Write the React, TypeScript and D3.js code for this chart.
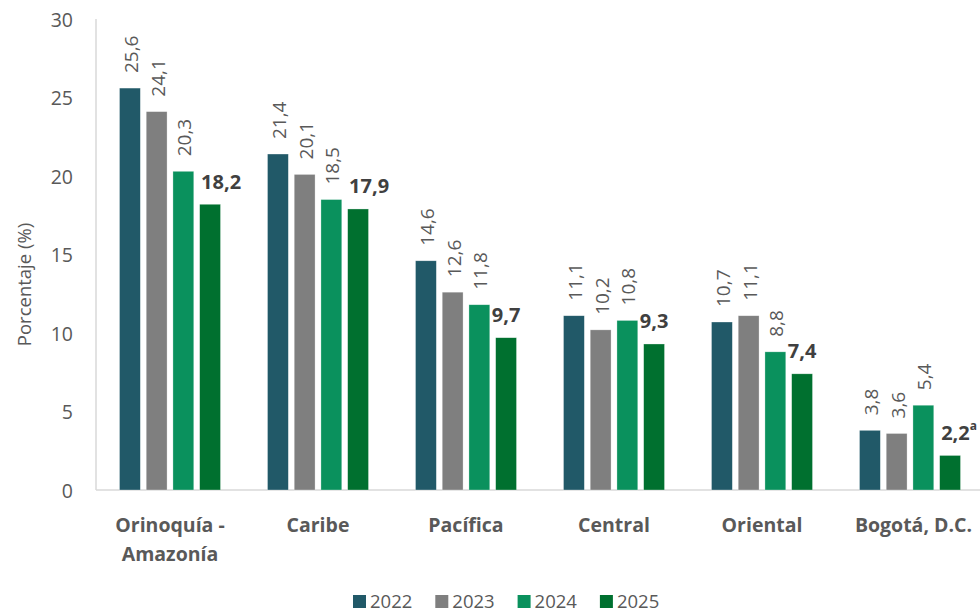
import React from "react";
import * as d3 from "d3";

const regions = ["Orinoquía - Amazonía", "Caribe", "Pacífica", "Central", "Oriental", "Bogotá, D.C."];
const regionLines = [["Orinoquía -", "Amazonía"], ["Caribe"], ["Pacífica"], ["Central"], ["Oriental"], ["Bogotá, D.C."]];
const years = ["2022", "2023", "2024", "2025"];
const v2022 = [25.6, 21.4, 14.6, 11.1, 10.7, 3.8];
const v2023 = [24.1, 20.1, 12.6, 10.2, 11.1, 3.6];
const v2024 = [20.3, 18.5, 11.8, 10.8, 8.8, 5.4];
const v2025 = [18.2, 17.9, 9.7, 9.3, 7.4, 2.2];
const footnotes = ["", "", "", "", "", "a"];
const yTicks = [0, 5, 10, 15, 20, 25, 30];
const colors = ["#215968", "#7F7F7F", "#0A915D", "#00702F"];

const series = [v2022, v2023, v2024, v2025];
const FONT = "'Open Sans', 'Noto Sans', sans-serif";
const fmt = (v: number) => v.toFixed(1).replace(".", ",");

export default function App() {
  const W = 980, H = 611;
  const left = 96, baseY = 490, topY = 19, right = 984;
  const y = d3.scaleLinear().domain([0, 30]).range([baseY, topY]);
  const x0 = d3.scaleBand<string>().domain(regions).range([left, right]).padding(0);
  const inner = 101;
  const x1 = d3.scaleBand<string>().domain(years).range([0, inner]).paddingInner(0.22);
  const off = (x0.bandwidth() - inner) / 2;

  return (
    <svg width={W} height={H} style={{ position: "absolute", left: 0, top: 0 }} fontFamily={FONT}>
      <rect width={W} height={H} fill="#fff" />
      {/* axes */}
      <line x1={left} x2={left} y1={topY} y2={baseY} stroke="#D9D9D9" strokeWidth={1.5} />
      <line x1={left} x2={W} y1={baseY} y2={baseY} stroke="#D9D9D9" strokeWidth={1.5} />
      {yTicks.map((t) => (
        <text key={t} x={73} y={y(t)} textAnchor="end" dominantBaseline="central" fontSize={19.5} fill="#595959">
          {t}
        </text>
      ))}
      <text transform={`translate(23,${(topY + baseY) / 2 + 30}) rotate(-90)`} textAnchor="middle" dominantBaseline="central" fontSize={18.5} fill="#595959">
        Porcentaje (%)
      </text>
      {/* bars */}
      {regions.map((r, i) => {
        const gx = (x0(r) as number) + off;
        return (
          <g key={r} transform={`translate(${gx},0)`}>
            {years.map((yr, j) => {
              const v = series[j][i];
              const bx = x1(yr) as number;
              const bw = x1.bandwidth();
              const cx = bx + bw / 2;
              return (
                <g key={yr}>
                  <rect x={bx} y={y(v)} width={bw} height={baseY - y(v)} fill={colors[j]} stroke="#fff" strokeOpacity={0.5} strokeWidth={0.6} />
                  {j < 3 ? (
                    <text transform={`translate(${cx + 1},${y(v) - 15}) rotate(-90)`} dominantBaseline="central" fontSize={19} fill="#595959">
                      {fmt(v)}
                    </text>
                  ) : (
                    <text x={cx + (v >= 10 ? 11 : footnotes[i] ? 9 : 0)} y={y(v) - 23} textAnchor="middle" dominantBaseline="central" fontSize={20} fontWeight="bold" fill="#404040">
                      {fmt(v)}
                      {footnotes[i] ? (
                        <tspan fontSize={12} dy={-7}>{footnotes[i]}</tspan>
                      ) : null}
                    </text>
                  )}
                </g>
              );
            })}
            {regionLines[i].map((ln, k) => {
              const last = i === regions.length - 1;
              return (
                <text key={k} x={last ? W - 8 - gx : inner / 2} y={524 + k * 29} textAnchor={last ? "end" : "middle"} dominantBaseline="central" fontSize={19.5} fontWeight="bold" fill="#595959">
                  {ln}
                </text>
              );
            })}
          </g>
        );
      })}
      {/* legend */}
      {years.map((yr, j) => (
        <g key={yr} transform={`translate(${353 + j * 82.3},0)`}>
          <rect x={0} y={595} width={13} height={13} fill={colors[j]} />
          <text x={17} y={600} dominantBaseline="central" fontSize={18.5} fill="#595959">
            {yr}
          </text>
        </g>
      ))}
    </svg>
  );
}
